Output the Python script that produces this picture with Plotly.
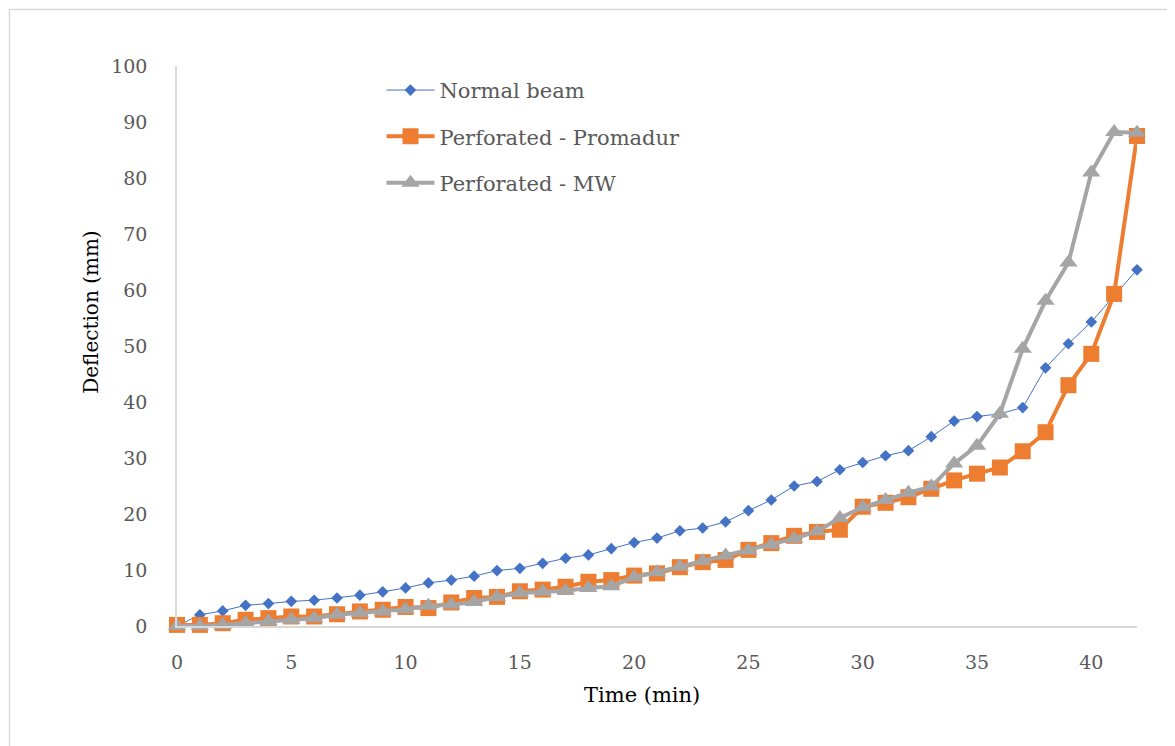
import plotly.graph_objects as go

time_min = list(range(0, 43))

normal_beam = [0, 2.0, 2.7, 3.7, 4.0, 4.4, 4.6, 5.0, 5.5, 6.1,
               6.8, 7.7, 8.2, 8.9, 9.9, 10.3, 11.2, 12.1, 12.7, 13.8,
               14.9, 15.7, 17.0, 17.5, 18.6, 20.6, 22.5, 25.0, 25.8, 27.9,
               29.2, 30.4, 31.3, 33.8, 36.6, 37.4, 37.9, 39.0, 46.1, 50.4,
               54.3, 59.0, 63.6]

perf_promadur = [0.2, 0.2, 0.5, 1.1, 1.4, 1.7, 1.7, 2.1, 2.6, 2.9,
                 3.4, 3.2, 4.2, 5.0, 5.2, 6.2, 6.5, 7.0, 7.9, 8.2,
                 9.0, 9.4, 10.5, 11.4, 11.8, 13.6, 14.8, 16.1, 16.8, 17.2,
                 21.3, 22.0, 23.0, 24.5, 26.0, 27.2, 28.3, 31.2, 34.6, 43.0,
                 48.6, 59.3, 87.5]

perf_mw = [0, 0, 0.2, 0.5, 0.8, 1.1, 1.4, 2.0, 2.3, 2.6,
           3.0, 3.6, 3.8, 4.3, 5.2, 5.9, 6.1, 6.3, 6.8, 7.1,
           8.7, 9.6, 10.6, 11.6, 12.6, 13.5, 14.5, 15.6, 16.9, 19.3,
           21.2, 22.5, 23.8, 24.9, 29.0, 32.2, 37.9, 49.5, 58.1, 64.9,
           81.0, 88.2, 88.1]

x_ticks = [0, 5, 10, 15, 20, 25, 30, 35, 40]
y_ticks = [0, 10, 20, 30, 40, 50, 60, 70, 80, 90, 100]

FONT = "DejaVu Serif"

fig = go.Figure()
fig.add_trace(go.Scatter(
    x=time_min, y=normal_beam, name="Normal beam", mode="lines+markers",
    line=dict(color="#4472C4", width=1),
    marker=dict(symbol="diamond", size=9, color="#4472C4"),
    legendgroup="a", cliponaxis=False))
fig.add_trace(go.Scatter(
    x=time_min, y=perf_promadur, name="Perforated - Promadur", mode="lines+markers",
    line=dict(color="#ED7D31", width=4),
    marker=dict(symbol="square", size=16, color="#ED7D31"),
    legendgroup="b", cliponaxis=False))
fig.add_trace(go.Scatter(
    x=time_min, y=perf_mw, name="Perforated - MW", mode="lines+markers",
    line=dict(color="#A5A5A5", width=4),
    marker=dict(symbol="triangle-up", size=16, color="#A5A5A5"),
    legendgroup="c", cliponaxis=False))

fig.update_layout(
    width=1175, height=746,
    margin=dict(l=169, r=46, t=58, b=128),
    paper_bgcolor="white", plot_bgcolor="white",
    font=dict(family=FONT, color="#595959", size=19),
    showlegend=True,
    legend=dict(x=0.213, y=0.993, xanchor="left", yanchor="top",
                bgcolor="rgba(0,0,0,0)", tracegroupgap=16,
                font=dict(family=FONT, size=21, color="#595959"),
                itemwidth=48),
    xaxis=dict(range=[0, 42], tickvals=x_ticks, showgrid=False, zeroline=False,
               showline=True, linecolor="#D9D9D9", linewidth=1.5, ticks="",
               tickfont=dict(size=19, color="#595959"), ticklabelstandoff=18),
    yaxis=dict(range=[0, 100], tickvals=y_ticks, showgrid=False, zeroline=False,
               showline=True, linecolor="#D9D9D9", linewidth=1.5, ticks="",
               tickfont=dict(size=19, color="#595959"), ticklabelstandoff=24),
    annotations=[
        dict(text="Time (min)", xref="paper", yref="paper", x=0.484, y=-0.123,
             xanchor="center", yanchor="middle", showarrow=False,
             font=dict(family=FONT, size=21, color="black")),
        dict(text="Deflection (mm)", xref="paper", yref="paper", x=-0.0896, y=0.561,
             xanchor="center", yanchor="middle", showarrow=False, textangle=-90,
             font=dict(family=FONT, size=20, color="black")),
    ],
    shapes=[dict(type="rect", xref="paper", yref="paper",
                 x0=-0.1745, x1=1.06, y0=-0.25, y1=1.1009,
                 line=dict(color="#D9D9D9", width=1.5), layer="below")],
)

fig.write_html("out.html")
